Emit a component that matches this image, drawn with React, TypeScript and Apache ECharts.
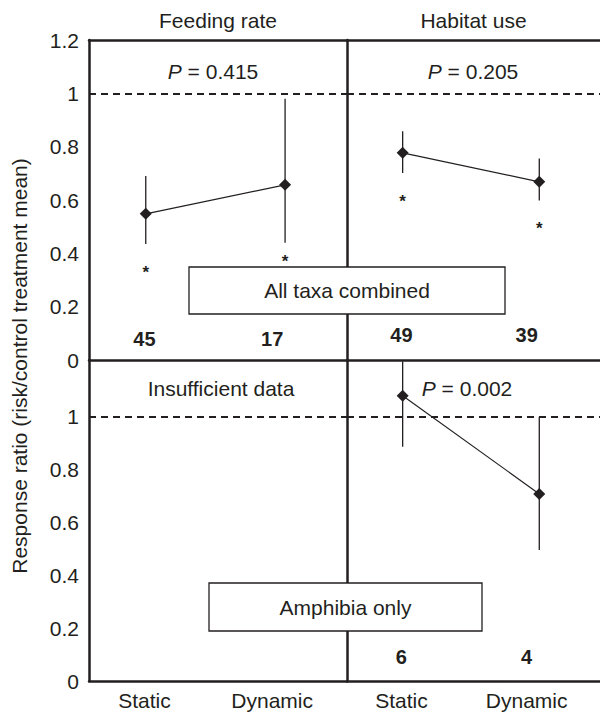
import React, { useEffect, useRef } from "react";
import * as echarts from "echarts";

// ---- data ----
const categories = ["Static", "Dynamic"];
const panelTitles = ["Feeding rate", "Habitat use"];
const yTicks = [0, 0.2, 0.4, 0.6, 0.8, 1, 1.2];

const feedingMean = [0.548, 0.657];
const feedingLow = [0.435, 0.44];
const feedingHigh = [0.69, 0.98];
const feedingStar = [0.345, 0.383];
const feedingN = [45, 17];
const feedingP = "0.415";

const habitatMean = [0.777, 0.668];
const habitatLow = [0.701, 0.598];
const habitatHigh = [0.858, 0.756];
const habitatStar = [0.61, 0.507];
const habitatN = [49, 39];
const habitatP = "0.205";

const amphibiaMean = [1.08, 0.708];
const amphibiaLow = [0.887, 0.496];
const amphibiaHigh = [1.21, 1.0];
const amphibiaN = [6, 4];
const amphibiaP = "0.002";

// ---- layout constants ----
const POINT_X = [0.22, 0.76];
const LABEL_X = [0.215, 0.71];
const INK = "#231f20";
const FONT = "Liberation Sans, Arial, Helvetica, sans-serif";
const FS = 21;

function panelSeries(
  idx: number,
  mean: number[],
  low: number[],
  high: number[],
  stars: number[] | null,
  ns: number[],
  nY: number
): any[] {
  const out: any[] = [];
  out.push({
    type: "custom",
    xAxisIndex: idx,
    yAxisIndex: idx,
    z: 3,
    data: mean.map((_, i) => [POINT_X[i], low[i], high[i]]),
    renderItem: (params: any, api: any) => {
      const x = api.value(0);
      const p1 = api.coord([x, api.value(1)]);
      const p2 = api.coord([x, api.value(2)]);
      return {
        type: "line",
        shape: { x1: p1[0], y1: p1[1], x2: p2[0], y2: p2[1] },
        style: { stroke: INK, lineWidth: 1.3 },
      };
    },
  });
  out.push({
    type: "line",
    xAxisIndex: idx,
    yAxisIndex: idx,
    z: 4,
    data: mean.map((m, i) => [POINT_X[i], m]),
    symbol: "diamond",
    symbolSize: 12,
    itemStyle: { color: INK },
    lineStyle: { color: INK, width: 1.2 },
  });
  if (stars) {
    out.push({
      type: "scatter",
      xAxisIndex: idx,
      yAxisIndex: idx,
      symbolSize: 0,
      itemStyle: { color: INK, opacity: 1 },
      data: stars.map((s, i) => [POINT_X[i], s]),
      label: {
        show: true,
        position: "inside",
        formatter: "*",
        fontSize: 17,
        fontWeight: "bold",
        color: INK,
        opacity: 1,
        fontFamily: FONT,
        offset: [0, 4],
      },
    });
  }
  out.push({
    type: "scatter",
    xAxisIndex: idx,
    yAxisIndex: idx,
    symbolSize: 0,
    itemStyle: { color: INK, opacity: 1 },
    data: ns.map((n, i) => [LABEL_X[i], nY, n]),
    label: {
      show: true,
      position: "inside",
      formatter: (p: any) => String(p.value[2]),
      fontSize: 20,
      fontWeight: "bold",
      color: INK,
      opacity: 1,
      fontFamily: FONT,
    },
  });
  return out;
}

function refLine(idx: number): any {
  return {
    type: "line",
    xAxisIndex: idx,
    yAxisIndex: idx,
    data: [],
    markLine: {
      silent: true,
      symbol: "none",
      label: { show: false },
      lineStyle: { color: INK, width: 2, type: [7, 5] },
      data: [{ yAxis: 1 }],
    },
  };
}

export default function App() {
  const ref = useRef<HTMLDivElement>(null);
  useEffect(() => {
    if (!ref.current) return;
    const chart = echarts.init(ref.current, null, { renderer: "svg" });
    const grids = [
      { left: 89, top: 40, width: 258, height: 320 },
      { left: 347, top: 40, width: 258, height: 320 },
      { left: 89, top: 360, width: 258, height: 321 },
      { left: 347, top: 360, width: 258, height: 321 },
    ];
    const axisLine = { show: true, lineStyle: { color: INK, width: 2.5 } };
    const xAxes: any[] = [0, 1, 2, 3].map((g) => ({
      type: "value",
      gridIndex: g,
      min: 0,
      max: 1,
      position: "bottom",
      axisLine,
      axisTick: { show: false },
      splitLine: { show: false },
      axisLabel:
        g >= 2
          ? {
              show: true,
              customValues: LABEL_X,
              formatter: (v: number) => {
                const i = LABEL_X.findIndex((x) => Math.abs(x - v) < 1e-6);
                return i >= 0 ? categories[i] : "";
              },
              fontSize: FS,
              color: INK,
              fontFamily: FONT,
              margin: 9,
            }
          : { show: false },
    }));
    [0, 1].forEach((g) => {
      xAxes.push({
        type: "value",
        gridIndex: g,
        min: 0,
        max: 1,
        position: "top",
        axisLine,
        axisTick: { show: false },
        splitLine: { show: false },
        axisLabel: { show: false },
        name: panelTitles[g],
        nameLocation: "middle",
        nameGap: 9,
        nameTextStyle: { fontSize: FS, color: INK, fontFamily: FONT },
      });
    });
    const yAxes: any[] = [0, 1, 2, 3].map((g) => ({
      type: "value",
      gridIndex: g,
      min: 0,
      max: g < 2 ? 1.2 : 1.215,
      interval: 0.2,
      axisLine: { ...axisLine, onZero: false },
      axisTick: { show: false },
      splitLine: { show: false },
      axisLabel:
        g === 0 || g === 2
          ? {
              show: true,
              customValues: g === 0 ? yTicks : yTicks.filter((t) => t <= 1),
              formatter: (v: number) => {
                if (g === 2 && v > 1.05) return "";
                return String(Math.round(v * 10) / 10);
              },
              fontSize: FS,
              color: INK,
              fontFamily: FONT,
              margin: 10,
            }
          : { show: false },
    }));

    const series: any[] = [
      ...panelSeries(0, feedingMean, feedingLow, feedingHigh, feedingStar, feedingN, 0.08),
      ...panelSeries(1, habitatMean, habitatLow, habitatHigh, habitatStar, habitatN, 0.095),
      ...panelSeries(3, amphibiaMean, amphibiaLow, amphibiaHigh, null, amphibiaN, 0.092),
      refLine(0),
      refLine(1),
      refLine(2),
      refLine(3),
    ];

    const pRich = {
      i: { fontStyle: "italic", fontSize: FS, fontFamily: FONT, fill: INK },
    };
    const pText = (x: number, y: number, val: string) => ({
      type: "text",
      x,
      y,
      z: 50,
      style: {
        text: "{i|P} = " + val,
        rich: pRich,
        fontSize: FS,
        fontFamily: FONT,
        fill: INK,
        align: "center",
        verticalAlign: "middle",
      },
    });
    const boxed = (x: number, y: number, w: number, h: number, label: string) => [
      {
        type: "rect",
        z: 100,
        shape: { x, y, width: w, height: h },
        style: { fill: "#fff", stroke: INK, lineWidth: 1.3 },
      },
      {
        type: "text",
        z: 101,
        x: x + w / 2,
        y: y + h / 2,
        style: {
          text: label,
          fontSize: FS,
          fontFamily: FONT,
          fill: INK,
          align: "center",
          verticalAlign: "middle",
        },
      },
    ];

    chart.setOption({
      animation: false,
      grid: grids,
      xAxis: xAxes,
      yAxis: yAxes,
      series,
      graphic: [
        pText(213, 71, feedingP),
        pText(473, 71, habitatP),
        pText(467, 388, amphibiaP),
        {
          type: "text",
          x: 221,
          y: 388,
          style: {
            text: "Insufficient data",
            fontSize: FS,
            fontFamily: FONT,
            fill: INK,
            align: "center",
            verticalAlign: "middle",
          },
        },
        {
          type: "text",
          x: 19,
          y: 366,
          rotation: Math.PI / 2,
          style: {
            text: "Response ratio (risk/control treatment mean)",
            fontSize: FS,
            fontFamily: FONT,
            fill: INK,
            align: "center",
            verticalAlign: "middle",
          },
        },
        ...boxed(189, 267, 316, 47, "All taxa combined"),
        ...boxed(209, 583, 273, 48, "Amphibia only"),
      ],
    });
    return () => chart.dispose();
  }, []);
  return (
    <div
      ref={ref}
      style={{ position: "absolute", left: 0, top: 0, width: 600, height: 715, background: "#fff" }}
    />
  );
}
